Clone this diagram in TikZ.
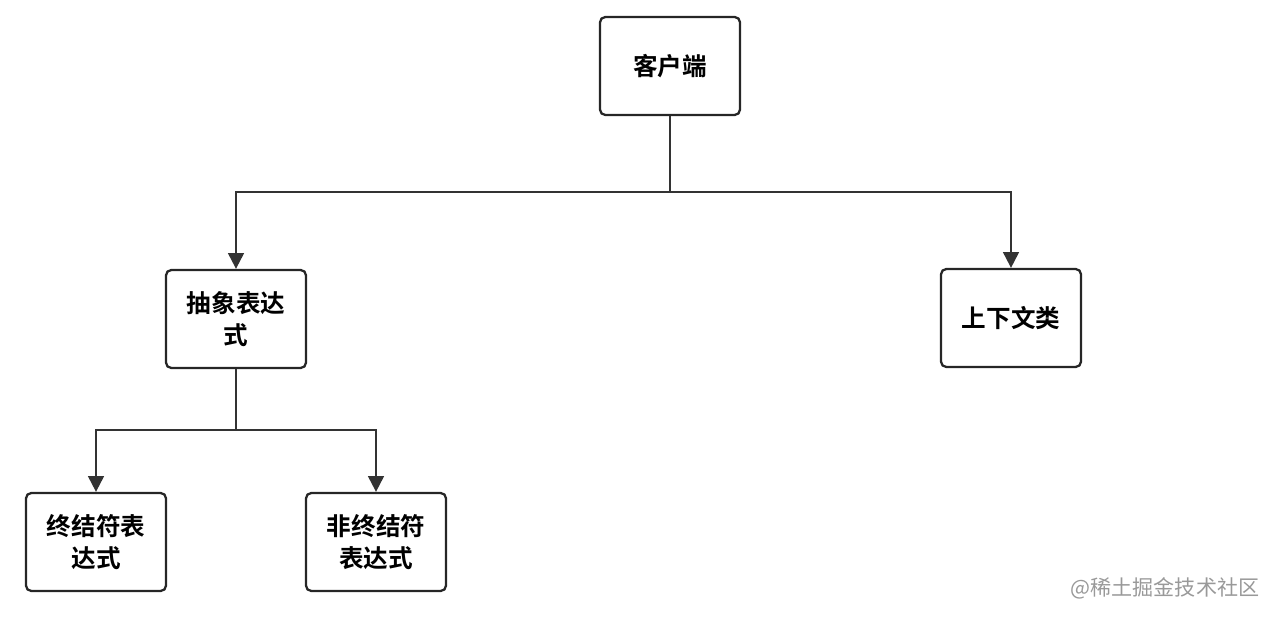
\documentclass[tikz,border=0pt]{standalone}
\usepackage{fontspec}
\newfontfamily\cjk{Noto Sans CJK SC}[BoldFont={Noto Sans CJK SC Bold}]
\usetikzlibrary{arrows.meta}
\begin{document}
\begin{tikzpicture}[x=0.02cm,y=-0.02cm,
    box/.style={draw=black!85,line width=1.3pt,rounded corners=3pt,minimum width=2.8cm,
      minimum height=1.96cm,align=center,font=\cjk\bfseries\fontsize{14}{18}\selectfont},
    link/.style={draw=black!80,line width=1.2pt,-{Triangle[length=9pt,width=9pt]}}]
    \useasboundingbox (0,0) rectangle (1263,617);

    % Define boxes
    \node[box] (client) at (670,66) {客户端};
    \node[box] (abstract) at (236,319) {抽象表达\\式};
    \node[box] (context) at (1011,318) {上下文类};
    \node[box] (terminal) at (96,542) {终结符表\\达式};
    \node[box] (nonterminal) at (376,542) {非终结符\\表达式};

    % Draw links
    \coordinate (top) at (670,192);
    \coordinate (mid) at (236,430);
    \draw[line width=1.2pt,black!80] (client) -- (top);
    \draw[link] (top) -| (abstract);
    \draw[link] (top) -| (context);
    \draw[line width=1.2pt,black!80] (abstract) -- (mid);
    \draw[link] (mid) -| (terminal);
    \draw[link] (mid) -| (nonterminal);

    \node[font=\cjk\fontsize{12}{14}\selectfont,text=black!40] (mark) at (1165,588) {@稀土掘金技术社区};
\end{tikzpicture}
\end{document}
